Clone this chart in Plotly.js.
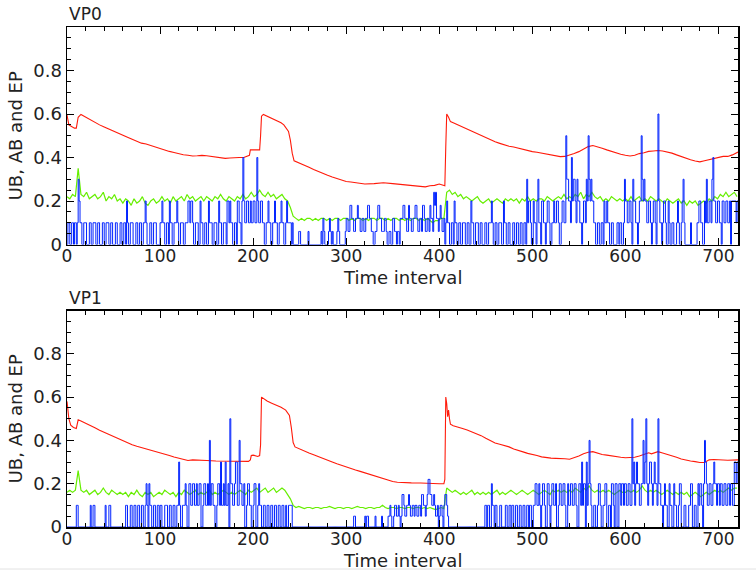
<!DOCTYPE html>
<html>
<head>
<meta charset="utf-8">
<script src="https://cdn.plot.ly/plotly-3.0.1.min.js"></script>
<style>html,body{margin:0;padding:0;background:#fff;}#chart{width:756px;height:571px;}</style>
</head>
<body>
<div id="chart"></div>
<script>
// ---------- data ----------
const panelTitles = ['VP0', 'VP1'];
const xTitle = 'Time interval';
const yTitle = 'UB, AB and EP';
const xTickVals = [0, 100, 200, 300, 400, 500, 600, 700];
const yTickVals = [0, 0.2, 0.4, 0.6, 0.8];
const yTickText = ['0', '0.2', '0.4', '0.6', '0.8'];

// UB (red) : [time interval, value]
const vp0UB = [[0,0.595],[2,0.55],[4,0.545],[8,0.535],[10,0.535],[11,0.56],[12,0.585],[15,0.598],[20,0.585],[25,0.572],[30,0.562],[35,0.55],[40,0.54],[45,0.53],[50,0.52],[55,0.51],[60,0.503],[65,0.493],[70,0.484],[75,0.475],[80,0.466],[85,0.462],[90,0.455],[95,0.447],[100,0.44],[105,0.435],[110,0.428],[115,0.423],[120,0.417],[125,0.413],[130,0.41],[135,0.407],[140,0.408],[145,0.41],[150,0.408],[155,0.405],[160,0.402],[165,0.4],[170,0.396],[175,0.398],[180,0.4],[185,0.4],[190,0.4],[193,0.405],[196,0.41],[197,0.435],[200,0.435],[205,0.433],[207,0.435],[208,0.5],[209,0.59],[211,0.598],[215,0.59],[220,0.58],[225,0.57],[230,0.56],[233,0.55],[236,0.535],[238,0.52],[240,0.48],[242,0.42],[244,0.385],[250,0.375],[255,0.365],[260,0.355],[265,0.345],[270,0.335],[275,0.325],[280,0.318],[285,0.31],[290,0.303],[295,0.295],[300,0.29],[305,0.287],[310,0.283],[315,0.28],[320,0.278],[330,0.28],[340,0.284],[350,0.28],[360,0.275],[370,0.272],[380,0.268],[385,0.265],[390,0.27],[395,0.272],[400,0.278],[404,0.272],[406,0.27],[407,0.45],[408,0.6],[410,0.585],[412,0.565],[415,0.56],[420,0.55],[425,0.54],[430,0.53],[435,0.52],[440,0.51],[445,0.5],[450,0.492],[455,0.48],[460,0.472],[465,0.465],[470,0.458],[475,0.452],[480,0.448],[485,0.442],[490,0.438],[495,0.432],[500,0.427],[505,0.424],[510,0.42],[515,0.415],[520,0.41],[525,0.408],[530,0.404],[535,0.405],[540,0.41],[545,0.418],[550,0.427],[555,0.44],[560,0.45],[565,0.455],[570,0.45],[575,0.443],[580,0.435],[585,0.428],[590,0.42],[595,0.415],[600,0.41],[605,0.407],[610,0.41],[615,0.418],[620,0.422],[625,0.428],[630,0.43],[635,0.432],[640,0.43],[645,0.426],[650,0.42],[655,0.412],[660,0.404],[665,0.396],[670,0.39],[675,0.384],[680,0.38],[685,0.385],[690,0.39],[695,0.396],[700,0.402],[705,0.405],[710,0.405],[715,0.412],[721,0.425]];

const vp1UB = [[0,0.58],[1,0.55],[2,0.5],[4,0.47],[7,0.46],[10,0.455],[11,0.47],[12,0.495],[15,0.49],[20,0.478],[25,0.468],[30,0.458],[35,0.447],[40,0.437],[45,0.428],[50,0.42],[55,0.41],[60,0.4],[65,0.39],[70,0.38],[75,0.373],[80,0.367],[85,0.362],[90,0.357],[95,0.35],[100,0.345],[105,0.338],[110,0.33],[115,0.323],[120,0.317],[125,0.312],[130,0.307],[135,0.31],[140,0.31],[145,0.309],[150,0.307],[160,0.305],[170,0.304],[180,0.305],[190,0.304],[195,0.303],[197,0.31],[198,0.33],[200,0.332],[205,0.326],[207,0.33],[208,0.38],[209,0.6],[212,0.59],[215,0.582],[220,0.572],[225,0.563],[230,0.553],[235,0.54],[237,0.53],[239,0.515],[241,0.46],[243,0.39],[245,0.37],[250,0.36],[255,0.35],[260,0.342],[265,0.334],[270,0.325],[275,0.315],[280,0.308],[285,0.3],[290,0.292],[295,0.284],[300,0.277],[305,0.27],[310,0.263],[315,0.257],[320,0.25],[325,0.243],[330,0.236],[335,0.228],[340,0.222],[345,0.215],[350,0.21],[355,0.207],[360,0.205],[370,0.204],[380,0.203],[390,0.2],[400,0.2],[405,0.2],[406,0.22],[407,0.6],[408,0.57],[409,0.51],[410,0.54],[411,0.5],[412,0.475],[415,0.468],[420,0.46],[425,0.455],[430,0.448],[435,0.44],[440,0.432],[445,0.422],[450,0.41],[455,0.398],[460,0.388],[465,0.382],[470,0.377],[475,0.37],[480,0.36],[485,0.352],[490,0.347],[495,0.34],[500,0.336],[505,0.33],[510,0.324],[515,0.32],[520,0.318],[525,0.317],[530,0.317],[535,0.315],[540,0.313],[545,0.32],[550,0.328],[555,0.338],[560,0.345],[565,0.348],[570,0.34],[575,0.335],[580,0.332],[585,0.328],[590,0.325],[595,0.322],[600,0.32],[605,0.32],[610,0.322],[615,0.328],[620,0.335],[625,0.343],[628,0.338],[632,0.345],[635,0.348],[640,0.342],[645,0.336],[650,0.33],[655,0.322],[660,0.314],[665,0.308],[670,0.305],[675,0.302],[680,0.298],[685,0.298],[690,0.31],[695,0.312],[700,0.31],[710,0.308],[721,0.31]];

// AB (green): one value every 3 time intervals (0, 3, 6, ... 720)
const abStep = 3;
const vp0AB = [
0.22,0.21,0.23,0.22,0.35,0.23,0.22,0.24,0.21,0.22,
0.23,0.21,0.22,0.24,0.20,0.22,0.21,0.23,0.20,0.21,
0.19,0.21,0.20,0.18,0.21,0.19,0.20,0.22,0.19,0.18,
0.20,0.21,0.19,0.20,0.22,0.20,0.21,0.19,0.22,0.20,
0.21,0.22,0.20,0.23,0.21,0.22,0.20,0.21,0.22,0.20,
0.22,0.21,0.20,0.22,0.21,0.23,0.21,0.20,0.22,0.21,
0.20,0.22,0.21,0.23,0.21,0.22,0.24,0.22,0.23,0.25,
0.23,0.22,0.24,0.22,0.23,0.21,0.22,0.23,0.21,0.20,
0.17,0.13,0.12,0.11,0.12,0.11,0.12,0.12,0.11,0.12,
0.11,0.12,0.12,0.11,0.12,0.11,0.12,0.12,0.11,0.12,
0.12,0.11,0.12,0.11,0.12,0.12,0.11,0.12,0.11,0.12,
0.12,0.11,0.12,0.12,0.11,0.12,0.11,0.12,0.12,0.11,
0.12,0.11,0.12,0.11,0.12,0.12,0.11,0.12,0.11,0.12,
0.11,0.10,0.11,0.11,0.12,0.12,0.24,0.25,0.23,0.24,
0.22,0.23,0.21,0.22,0.21,0.20,0.21,0.22,0.20,0.19,
0.20,0.21,0.19,0.20,0.21,0.20,0.19,0.21,0.20,0.21,
0.20,0.21,0.19,0.21,0.20,0.22,0.20,0.21,0.20,0.21,
0.21,0.20,0.22,0.21,0.20,0.21,0.22,0.21,0.23,0.21,
0.22,0.21,0.23,0.22,0.24,0.21,0.23,0.22,0.24,0.22,
0.21,0.22,0.20,0.21,0.20,0.22,0.21,0.20,0.21,0.20,
0.21,0.20,0.22,0.20,0.21,0.22,0.20,0.21,0.20,0.22,
0.21,0.20,0.21,0.20,0.19,0.21,0.20,0.19,0.20,0.21,
0.19,0.20,0.18,0.20,0.19,0.20,0.18,0.19,0.20,0.19,
0.21,0.20,0.22,0.21,0.23,0.22,0.24,0.22,0.23,0.24,
0.22];
const vp1AB = [
0.16,0.17,0.16,0.17,0.26,0.17,0.16,0.17,0.15,0.16,
0.17,0.15,0.16,0.18,0.16,0.15,0.17,0.16,0.15,0.16,
0.15,0.16,0.14,0.16,0.15,0.17,0.15,0.14,0.16,0.15,
0.16,0.14,0.15,0.16,0.15,0.17,0.16,0.15,0.16,0.14,
0.16,0.15,0.17,0.16,0.15,0.16,0.17,0.15,0.16,0.15,
0.16,0.17,0.15,0.16,0.15,0.16,0.17,0.16,0.15,0.16,
0.15,0.16,0.17,0.16,0.15,0.17,0.16,0.17,0.18,0.16,
0.17,0.18,0.16,0.17,0.18,0.16,0.17,0.18,0.17,0.15,
0.13,0.10,0.09,0.095,0.09,0.085,0.09,0.09,0.085,0.09,
0.09,0.085,0.09,0.09,0.095,0.09,0.085,0.09,0.09,0.085,
0.09,0.09,0.085,0.09,0.095,0.09,0.09,0.085,0.09,0.09,
0.085,0.09,0.09,0.10,0.09,0.085,0.09,0.09,0.085,0.09,
0.09,0.085,0.09,0.09,0.085,0.09,0.09,0.085,0.09,0.085,
0.09,0.085,0.08,0.085,0.09,0.085,0.18,0.17,0.16,0.17,
0.16,0.15,0.16,0.15,0.16,0.17,0.15,0.16,0.15,0.16,
0.15,0.16,0.15,0.16,0.17,0.15,0.16,0.15,0.16,0.17,
0.16,0.15,0.16,0.17,0.16,0.15,0.16,0.17,0.16,0.15,
0.16,0.17,0.16,0.15,0.17,0.16,0.17,0.16,0.17,0.16,
0.17,0.16,0.18,0.17,0.16,0.18,0.17,0.19,0.17,0.16,
0.17,0.16,0.17,0.16,0.17,0.16,0.15,0.16,0.17,0.16,
0.16,0.17,0.16,0.17,0.16,0.17,0.19,0.17,0.16,0.17,
0.16,0.17,0.16,0.15,0.16,0.17,0.16,0.15,0.16,0.15,
0.16,0.15,0.16,0.14,0.15,0.16,0.15,0.14,0.15,0.16,
0.15,0.16,0.17,0.16,0.17,0.16,0.17,0.18,0.17,0.18,
0.18];

// EP (blue): one value per time interval (0 ... 721), in tenths
const vp0EPtenths = [
0,1,1,0,0,1,1,0,1,1, 0,1,3,2,1,1,0,0,1,1,
1,0,0,0,1,1,0,0,1,1, 1,0,0,1,1,0,0,0,1,1,
0,0,1,1,1,0,0,1,1,0, 0,0,1,1,0,0,0,1,1,0,
0,1,1,0,2,1,0,0,1,1, 1,0,0,0,1,1,0,0,1,1,
0,0,1,1,2,1,0,0,0,1, 1,0,0,1,1,1,0,0,0,0,
1,1,2,1,1,0,0,1,1,0, 2,1,1,0,0,1,1,1,2,1,
0,0,1,1,1,0,0,1,1,1, 2,2,1,2,2,1,0,0,1,1,
1,0,0,2,1,1,0,0,1,1, 0,0,2,1,1,1,0,0,1,1,
1,0,0,2,1,1,0,0,1,1, 1,0,2,2,1,2,1,1,0,0,
1,1,0,2,2,1,1,0,2,4, 2,1,1,2,2,1,1,2,1,1,
2,2,1,1,4,2,1,1,2,2, 1,1,0,0,1,1,2,1,1,0,
0,1,1,2,1,1,0,0,1,1, 2,1,1,0,0,1,2,1,1,1,
1,0,1,0,0,0,0,0,0,0.6, 0.6,0,0,0,0,0,0,0,0,0.6,
0,0,0,0,0,0,0,0,0,0, 0,0,0,0.6,0,1.2,0.6,0,0,0,
0,0.6,1.2,0.6,0,0.6,0,0,0,0, 0.6,1.2,0.6,0,0,0,0,0,0,0.6,
1.2,1.2,0.6,0.6,1.8,1.8,1.2,1.2,0.6,0.6, 1.2,1.2,1.8,1.2,1.2,0.6,0.6,1.2,1.2,0.6,
0.6,1.2,1.2,1.8,1.8,1.2,1.2,0.6,0.6,0, 0,0.6,0.6,1.2,1.8,1.8,1.2,1.2,0.6,0.6,
0.6,1.2,1.2,0.6,0,0,0.6,0.6,0,0, 1.2,1.2,0.6,0.6,0,0.6,0.6,0,1.2,1.2,
1.2,1.8,1.8,1.2,1.2,0.6,0.6,1.8,1.2,1.2, 0.6,0.6,1.2,1.2,1.8,1.8,1.2,0.6,0.6,1.2,
1.2,0.6,1.8,1.8,1.2,0.6,0.6,1.2,1.2,0.6, 1.8,1.2,1.2,0.6,2.4,1.8,2.4,1.2,1.2,0.6,
1.2,1.8,1.2,0.6,0.6,1.2,0,1,2,1, 1,0,0,1,1,0,2,1,1,0,
0,1,1,0,0,1,1,1,0,0, 1,1,0,0,2,1,1,0,0,1,
1,1,0,0,1,1,0,0,0,1, 1,0,0,1,1,1,2,1,0,0,
1,1,0,0,1,1,1,0,0,2, 1,1,0,0,1,1,0,0,0,1,
1,0,0,1,1,0,0,1,1,0, 0,1,1,0,3,1,2,2,1,0,
0,2,1,1,0,2,3,1,1,0, 2,2,1,1,0,1,2,2,1,0,
0,1,1,2,1,1,2,2,1,0, 0,1,2,2,1,1,5,3,3,2,
2,1,4,2,3,3,2,1,3,2, 2,1,1,0,1,2,2,1,3,2,
5,3,2,3,2,2,1,1,0,0, 1,1,0,0,1,1,0,2,1,1,
2,1,1,0,0,1,1,0,0,0, 0,1,1,0,1,1,0,0,1,3,
2,2,1,1,2,2,1,0,3,2, 2,1,1,0,1,2,2,5,3,2,
3,2,2,1,1,2,2,1,0,1, 2,2,1,0,2,6,2,1,1,0,
1,2,2,1,0,0,2,1,0,0, 1,1,0,0,0,1,2,1,0,0,
1,2,3,1,0,0,0,0,0,0, 1,0,0,0,0,0,0,1,1,2,
2,1,1,0,0,2,1,3,1,1, 2,2,1,3,4,2,2,1,1,2,
2,1,1,0,2,2,1,1,2,2, 1,1,2,0,2,2,2,2,2,1,
2,2];
const vp1EPtenths = [
0,0,0,0,0,0,0,0,0,0, 1,1,0,0,0,0,0,0,0,0,
0,0,0,0,0,1,0,0,1,1, 0,0,0,0,0,0,0,0,0,0,
0,1,0,0,0,1,1,0,0,0, 0,0,0,0,0,0,0,0,0,0,
0,0,0,1,1,0,0,0,1,1, 0,0,1,1,0,0,1,1,0,0,
1,1,0,0,1,2,1,0,2,1, 1,0,0,1,1,0,0,1,1,0,
1,1,0,0,0,1,1,1,0,0, 1,1,0,0,1,1,0,0,1,1,
3,1,0,0,1,1,1,2,1,0, 0,2,2,1,1,2,2,1,1,2,
1,1,2,2,0,0,1,2,2,1, 1,2,1,4,1,2,2,1,1,0,
0,1,2,2,1,3,1,1,2,1, 3,1,1,2,0,5,2,2,1,1,
2,3,3,1,1,4,2,2,1,1, 2,0,0,1,2,2,1,1,0,0,
1,2,2,0,0,1,2,1,1,0, 0,1,1,0,0,1,1,0,0,1,
1,0,0,1,1,0,0,1,1,0, 0,1,1,0,0,1,0,0,1,1,
1,1,0,0,0,0,0,0,0,0, 0,0,0,0,0,0,0,0,0,0,
0,0,0,0,0,0,0,0,0,0, 0,0,0,0,0,0,0,0,0,0,
0,0,0,0,0,0,0,0,0,0, 0,0,0,0,0,0,0,0,0,0,
0,0,0,0,0,0,0,0,0.5,0.5, 0,0,0,0,0,0,0,0,0,0,
0.5,0,0.5,0.5,0,0,0,0,0,0, 0,0.5,0,0,0,0,0,0,0.5,0,
0,0,0,0,0,0.5,0.5,1,0.5,0, 0,0.5,1,1,0.5,0.5,1,0.5,0,0.5,
1.5,1.5,1,0.5,0.5,1,1,1.5,1,0.5, 0.5,1,1,0.5,1,1,0.5,0.5,1,1,
0.5,1.5,1.5,1,1,0.5,1,1.5,2.2,2.2, 1.5,1.5,1,1,1.5,1,0.5,0.5,1,0,
0.5,1,1,0.5,0,1,1.5,1.5,1,0.5, 0,0,0,0,0,0,0,0,0,0,
0,0,0,0,0,0,0,0,0,0, 0,0,0,0,0,0,0,0,0,0,
0,0,0,0,0,0,0,0,0,1, 1,0,1,1,0,0,2,1,1,0,
1,1,0,0,0,1,1,0,0,0, 0,1,1,0,0,1,1,0,1,1,
0,0,1,1,0,0,1,1,0,0, 1,1,0,0,1,1,0,1,1,0,
0,1,1,2,2,1,1,2,1,0, 1,2,2,1,0,0,2,2,1,0,
1,2,2,1,1,2,0,0,1,2, 2,1,1,2,2,1,0,0,2,1,
1,2,2,1,1,2,2,1,0,0, 2,2,1,3,1,2,2,0,3,1,
2,4,2,1,0,0,1,1,0,0, 1,2,2,1,0,0,1,1,2,2,
0,0,1,1,0,2,2,1,0,2, 2,0,0,2,2,1,2,2,1,2,
2,1,1,2,2,1,1,5,2,3, 1,2,3,2,2,1,1,2,2,4,
2,3,5,2,1,2,3,3,2,1, 2,3,2,2,1,5,2,2,1,1,
0,1,2,1,1,0,0,2,1,1, 0,0,2,1,1,0,0,1,2,2,
0,0,0,1,1,0,0,0,1,1, 2,2,0,0,1,1,0,0,2,1,
2,2,1,0,2,4,3,2,1,1, 2,2,1,1,2,3,2,2,1,2,
2,1,2,2,1,1,2,2,1,1, 2,2,1,2,2,1,1,3,3,2,
3,3];

// ---------- styles ----------
const FONT = 'DejaVu Sans, Verdana, sans-serif';
const TXT = '#222';
const RED = '#ff1a0a', GREEN = '#66ee00', BLUE = '#0022ff';

function traces(ub, ab, ep, xa, ya) {
  return [
    {x: ub.map(p => p[0]), y: ub.map(p => p[1]), xaxis: xa, yaxis: ya, type: 'scatter', mode: 'lines',
     line: {color: RED, width: 1.1}, hoverinfo: 'skip'},
    {x: ab.map((v, i) => i * abStep), y: ab, xaxis: xa, yaxis: ya, type: 'scatter', mode: 'lines',
     line: {color: GREEN, width: 1.2}, hoverinfo: 'skip'},
    {x: ep.map((v, i) => i), y: ep.map(v => v / 10), xaxis: xa, yaxis: ya, type: 'scatter', mode: 'lines',
     line: {color: BLUE, width: 1, shape: 'hv'}, hoverinfo: 'skip'}
  ];
}

const data = [].concat(
  traces(vp0UB, vp0AB, vp0EPtenths, 'x', 'y'),
  traces(vp1UB, vp1AB, vp1EPtenths, 'x2', 'y2')
);

function xAxis(anchor) {
  return {
    anchor: anchor, domain: [0, 1], range: [0, 721],
    tickmode: 'array', tickvals: xTickVals,
    ticks: 'inside', ticklen: 7, tickwidth: 1, tickcolor: '#000',
    ticklabelstandoff: -4,
    minor: {tickmode: 'linear', tick0: 0, dtick: 20, ticks: 'inside', ticklen: 4, tickwidth: 1, tickcolor: '#000', showgrid: false},
    showline: true, linecolor: '#000', linewidth: 1.5, mirror: 'allticks',
    showgrid: false, zeroline: false,
    tickfont: {family: FONT, size: 17, color: TXT}
  };
}
function yAxis(anchor, domain) {
  return {
    anchor: anchor, domain: domain, range: [0, 1],
    tickmode: 'array', tickvals: yTickVals, ticktext: yTickText,
    ticks: 'inside', ticklen: 7, tickwidth: 1, tickcolor: '#000',
    minor: {tickmode: 'linear', tick0: 0, dtick: 0.05, ticks: 'inside', ticklen: 4, tickwidth: 1, tickcolor: '#000', showgrid: false},
    showline: true, linecolor: '#000', linewidth: 1.5, mirror: 'allticks',
    showgrid: false, zeroline: false,
    tickfont: {family: FONT, size: 18, color: TXT},
    title: {text: yTitle, standoff: 6, font: {family: FONT, size: 18, color: TXT}}
  };
}

function label(text, x, y, xanchor, size) {
  return {text: text, xref: 'paper', yref: 'paper', x: x, y: y, xanchor: xanchor, yanchor: 'middle',
          showarrow: false, font: {family: FONT, size: size, color: TXT}};
}

const layout = {
  width: 756, height: 571,
  margin: {l: 67, r: 18, t: 27, b: 44, pad: 0},
  paper_bgcolor: '#fff', plot_bgcolor: '#fff',
  showlegend: false,
  font: {family: FONT, size: 18, color: TXT},
  xaxis: xAxis('y'),
  yaxis: yAxis('x', [0.565, 1]),
  xaxis2: xAxis('y2'),
  yaxis2: yAxis('x2', [0, 0.433]),
  annotations: [
    label(panelTitles[0], 0, 1.027, 'left', 17),
    label(panelTitles[1], 0, 0.458, 'left', 17),
    label(xTitle, 0.5, 0.5, 'center', 18),
    label(xTitle, 0.5, -0.066, 'center', 18)
  ],
  shapes: [
    {type: 'line', xref: 'paper', yref: 'paper', x0: -0.1, x1: 1.03, y0: -0.084, y1: -0.084,
     line: {color: '#e2e2e2', width: 1}}
  ]
};

Plotly.newPlot('chart', data, layout, {displayModeBar: false, staticPlot: true});
</script>
</body>
</html>
